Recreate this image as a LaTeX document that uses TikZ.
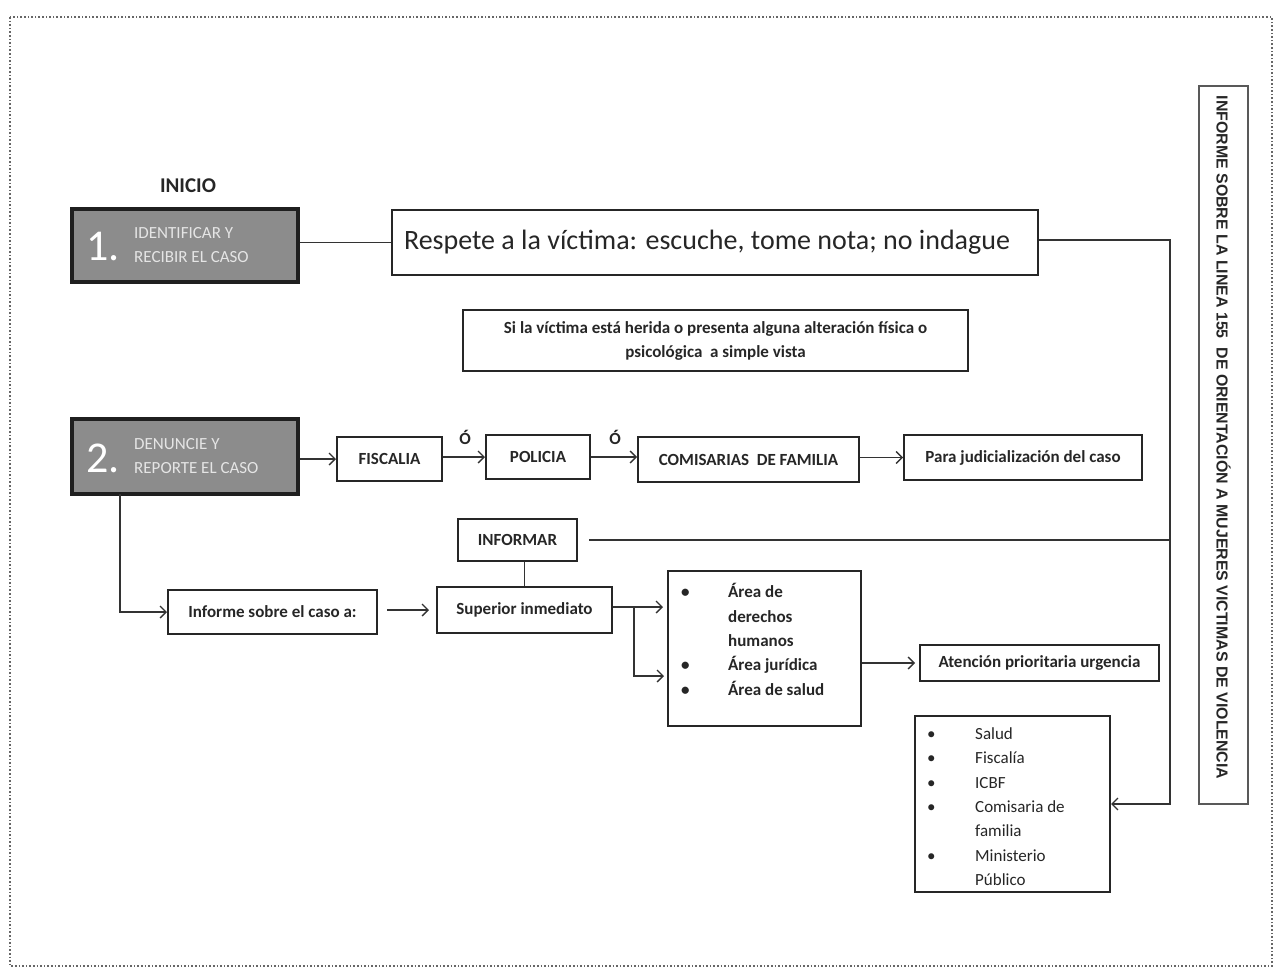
\documentclass[tikz,border=0pt]{standalone}
\usepackage{fontspec}
\setmainfont{Carlito}
\newfontfamily\titlefont{Liberation Sans}
\usetikzlibrary{arrows.meta,calc}
\begin{document}
\begin{tikzpicture}[x=1pt,y=-1pt,
  box/.style={draw=black!85, line width=2pt, inner sep=0pt, align=center, text=black!85, font=\fontsize{17}{24}\selectfont\bfseries},
  stepbox/.style={draw=black!88, line width=4.5pt, fill=black!45, inner sep=0pt},
  bignum/.style={text=white, inner sep=0pt, font=\fontsize{44}{44}\selectfont},
  steptext/.style={anchor=west, align=left, text=black!10, inner sep=0pt, font=\fontsize{17}{24}\selectfont},
  conn/.style={line width=1.3pt, draw=black!80},
  arr/.style={conn, -{Straight Barb[length=6pt,width=12pt,line width=1.3pt]}},
  lbl/.style={inner sep=0pt, text=black!85, font=\fontsize{17}{20}\selectfont\bfseries},
  listtext/.style={anchor=north west, align=left, inner sep=0pt, text=black!85, font=\fontsize{17}{24.3}\selectfont}
]
\useasboundingbox (0,0) rectangle (1278,972);
\draw[black!60, line width=1.6pt, dotted] (10,17) rectangle (1272,966);

\node[lbl, font=\fontsize{21}{24}\selectfont\bfseries] (inicio) at (188,186) {INICIO};

% step 1
\node[stepbox, minimum width=226pt, minimum height=73pt] (b1) at (185,245.5) {};
\node[bignum] (n1) at (103,247) {1.};
\node[steptext] (t1) at (134,245) {IDENTIFICAR Y\\RECIBIR EL CASO};

% step 2
\node[stepbox, minimum width=226pt, minimum height=75pt] (b2) at (185,456.5) {};
\node[bignum] (n2) at (103,458) {2.};
\node[steptext] (t2) at (134,456) {DENUNCIE Y\\REPORTE EL CASO};

\node[box, font=\fontsize{28}{32}\selectfont, minimum width=646pt, minimum height=65pt] (resp) at (715,242.5) {Respete a la víctima: escuche, tome nota; no indague\hspace*{16pt}};
\node[box, minimum width=505pt, minimum height=61pt] (si) at (715.5,340.5) {Si la víctima está herida o presenta alguna alteración física o\\psicológica\ \ a simple vista};

\node[box, minimum width=105pt, minimum height=44pt] (fis) at (389.5,459) {FISCALIA};
\node[box, minimum width=104pt, minimum height=44pt] (pol) at (538,457) {POLICIA};
\node[box, minimum width=221pt, minimum height=45pt] (com) at (748.5,459.5) {COMISARIAS\ \ DE FAMILIA};
\node[box, minimum width=238pt, minimum height=45pt] (jud) at (1023,457.5) {Para judicialización del caso};

\node[box, minimum width=209pt, minimum height=44pt] (infor) at (272.5,612) {Informe sobre el caso a:};
\node[box, minimum width=175pt, minimum height=46pt] (sup) at (524.5,610) {Superior inmediato};
\node[box, minimum width=119pt, minimum height=42pt] (infm) at (517.5,540) {INFORMAR};

\node[box, minimum width=193pt, minimum height=155pt] (areas) at (764.5,648.5) {};
\node[listtext, font=\fontsize{17}{24.3}\selectfont\bfseries] (areaslist) at (681,583.5) {\makebox[47pt][l]{\textbullet}Área de\\\hspace*{47pt}derechos\\\hspace*{47pt}humanos\\\makebox[47pt][l]{\textbullet}Área jurídica\\\makebox[47pt][l]{\textbullet}Área de salud};

\node[box, minimum width=239pt, minimum height=36pt] (aten) at (1039.5,663) {Atención prioritaria urgencia};

\node[box, minimum width=195pt, minimum height=176pt] (salud) at (1012.5,804) {};
\node[listtext] (saludlist) at (927,727.5) {\makebox[48pt][l]{\textbullet}Salud\\\makebox[48pt][l]{\textbullet}Fiscalía\\\makebox[48pt][l]{\textbullet}ICBF\\\makebox[48pt][l]{\textbullet}Comisaria de\\\hspace*{48pt}familia\\\makebox[48pt][l]{\textbullet}Ministerio\\\hspace*{48pt}Público};

\node[draw=black!65, line width=2.5pt, minimum width=49pt, minimum height=718pt, inner sep=0pt] (title) at (1223.5,445) {};
\node[rotate=-90, inner sep=0pt, text=black!85, font=\titlefont\bfseries\fontsize{15.9}{18}\selectfont] (titletext) at (1223.5,437.5) {INFORME SOBRE LA LINEA 155\ \ DE ORIENTACIÓN A MUJERES VICTIMAS DE VIOLENCIA};

% connectors
\coordinate (rt) at (1170,240);
\draw[conn] (b1.east |- resp.west) -- (resp.west);
\draw[arr] (resp.east |- rt) -- (rt) |- (salud.east);
\draw[conn] ([xshift=11pt]infm.east) -- (infm.east -| rt);

\draw[arr] (b2.east |- fis) -- (fis.west);
\draw[arr] (fis.east |- pol) -- (pol.west);
\node[lbl] (o1) at (465,437) {Ó};
\draw[arr] (pol.east) -- (pol.east -| com.west);
\node[lbl] (o2) at (615,437) {Ó};
\draw[arr] (com.east |- jud) -- (jud.west);

\coordinate (dn) at (120,494);
\draw[arr] (dn) |- (infor.west);
\draw[arr, shorten <=9pt, shorten >=7pt] (infor.east |- sup) -- (sup.west);
\draw[conn] (sup.north) -- (sup.north |- infm.south);
\draw[arr, shorten >=4pt] (sup.east |- 0,607) -- (areas.west |- 0,607);
\coordinate (br) at (634,676);
\draw[arr, shorten >=3pt] (br |- 0,607) -- (br) -- (br -| areas.west);
\draw[arr, shorten >=4pt] (areas.east |- aten) -- (aten.west);
\end{tikzpicture}
\end{document}
